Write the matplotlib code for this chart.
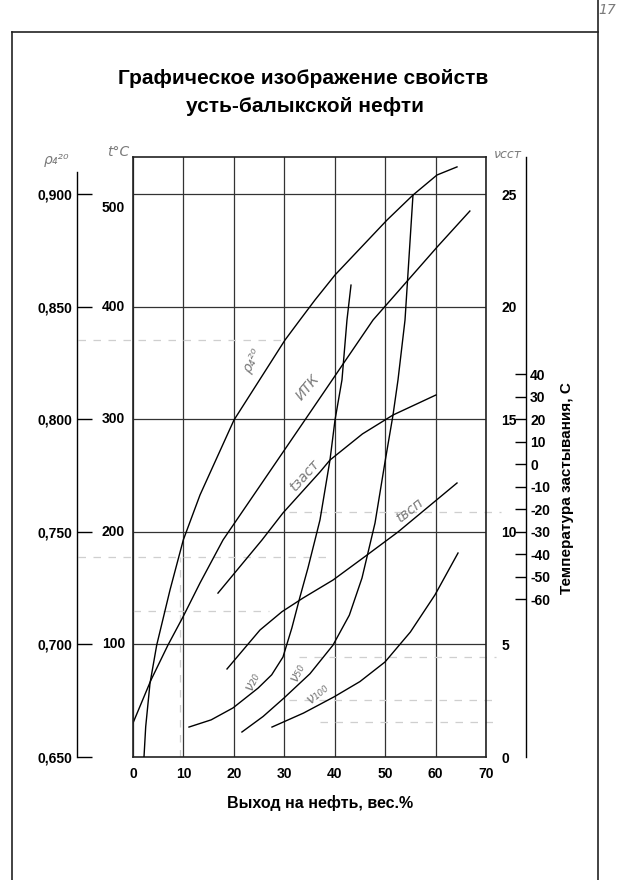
import matplotlib.pyplot as plt
from matplotlib.lines import Line2D

plt.rcParams['font.family'] = ['Liberation Sans', 'DejaVu Sans']
plt.rcParams['axes.unicode_minus'] = False

# оси
x_ticks = [0, 10, 20, 30, 40, 50, 60, 70]
t_ticks = [100, 200, 300, 400, 500]
rho_ticks = [0.650, 0.700, 0.750, 0.800, 0.850, 0.900]
visc_ticks = [0, 5, 10, 15, 20, 25]
pour_ticks = [40, 30, 20, 10, 0, -10, -20, -30, -40, -50, -60]

# плотность rho_4^20
rho_x = [2.18, 2.52, 3.37, 4.70, 7.34, 9.97, 13.29, 20.03, 30.14, 33.1, 36.09,
         40.06, 50.37, 55.52, 60.28, 64.25]
rho = [0.650, 0.6635, 0.6827, 0.6997, 0.7242, 0.7464, 0.7664, 0.7997, 0.8352,
       0.8441, 0.853, 0.8641, 0.8885, 0.8996, 0.9085, 0.9121]

# ИТК, °C
itk_x = [0.0, 3.57, 6.94, 9.91, 13.29, 17.85, 34.1, 47.6, 60.3, 66.8]
itk_t = [30.2, 68.4, 99.5, 124.4, 154.6, 192.8, 299.4, 388.2, 453.0, 485.0]

# температура вспышки, °C
flash_x = [18.64, 25.18, 29.55, 33.71, 39.66, 46.4, 52.55, 64.25]
flash_t = [78.2, 112.8, 129.1, 141.2, 157.2, 179.4, 199.9, 243.4]

# температура застывания, °C (правая шкала)
pour_x = [16.85, 25.58, 29.74, 37.08, 39.06, 45.5, 51.56, 60.08]
pour_t = [-57.2, -33.6, -21.6, -3.4, 1.9, 13.5, 21.9, 30.8]

# вязкость, сСт
v20_x = [11.1, 15.5, 19.83, 24.8, 27.5, 29.74, 31.5, 33.11, 34.7, 36.09, 37.08,
         39.06, 40.06, 41.44, 42.43, 43.23]
v20 = [1.33, 1.65, 2.18, 3.06, 3.65, 4.44, 5.73, 7.11, 8.4, 9.64, 10.53,
       13.19, 14.97, 16.75, 19.41, 20.96]
v50_x = [21.6, 25.8, 29.94, 35.1, 39.66, 42.9, 45.41, 47.99, 49.97, 51.56, 52.55,
         53.94, 55.52]
v50 = [1.11, 1.8, 2.62, 3.7, 4.97, 6.3, 7.95, 10.39, 13.1, 15.19, 16.75,
       19.41, 24.96]
v100_x = [27.56, 33.8, 39.86, 45.0, 49.97, 55.0, 59.88, 64.45]
v100 = [1.33, 1.95, 2.67, 3.35, 4.22, 5.55, 7.2, 9.06]

# подписи кривых (x, t, поворот)
curve_labels = [('ρ₄²⁰', 23.8, 352, 62), ('ИТК', 34.7, 328, 50),
                ('tзаст', 34.1, 250, 48), ('tвсп', 54.9, 219, 38),
                ('ν₂₀', 23.6, 68, 65), ('ν₅₀', 32.5, 76, 65), ('ν₁₀₀', 36.7, 57, 40)]

# бледные пунктирные построения со скана (x0, x1, t)
guides_h = [(-11, 30, 370), (31, 73, 218), (-11, 39, 178), (0, 27, 130),
            (33, 72, 89), (31, 72, 51), (37, 72, 31)]
guides_v = [(9.3, 0, 178)]

T_MAX = 533
W, H = 624, 880

fig = plt.figure(figsize=(W / 100, H / 100), dpi=100)
ax = fig.add_axes([133 / W, 1 - 757 / H, 353 / W, 600 / H])
ax.set_xlim(0, 70)
ax.set_ylim(0, T_MAX)

for x0, x1, t in guides_h:
    ax.plot([x0, x1], [t, t], color='#cfcfcf', lw=0.9, dashes=(6, 6), clip_on=False)
for x, t0, t1 in guides_v:
    ax.plot([x, x], [t0, t1], color='#cfcfcf', lw=0.9, dashes=(6, 6))

ax.set_xticks(x_ticks)
ax.set_xticklabels([str(v) for v in x_ticks], fontsize=10, fontweight='bold')
ax.set_yticks(t_ticks)
ax.set_yticklabels([])
ax.tick_params(axis='x', length=0, pad=7)
ax.tick_params(axis='y', length=0)
ax.grid(True, color='#333333', lw=0.9)
for s in ax.spines.values():
    s.set_linewidth(1.2)
    s.set_color('#222222')

for v in t_ticks:
    ax.annotate(str(v), xy=(0, v), xycoords=('axes fraction', 'data'),
                xytext=(-8, -14 if v == 500 else 0), textcoords='offset pixels',
                ha='right', va='center', fontsize=10, fontweight='bold')

ax.plot(itk_x, itk_t, color='black', lw=1.0)
ax.plot(flash_x, flash_t, color='black', lw=1.0)

# плотность
ax_d = ax.twinx()
ax_d.set_ylim(0.65, 0.65 + T_MAX * 0.0005)
for k in ('top', 'bottom', 'right'):
    ax_d.spines[k].set_visible(False)
ax_d.spines['left'].set_visible(True)
ax_d.spines['left'].set_position(('axes', -56 / 353))
ax_d.spines['left'].set_bounds(0.65, 0.910)
ax_d.spines['left'].set_linewidth(1.0)
ax_d.yaxis.set_ticks_position('left')
ax_d.set_yticks(rho_ticks)
ax_d.set_yticklabels([f'{v:.3f}'.replace('.', ',') for v in rho_ticks],
                     fontsize=10, fontweight='bold')
ax_d.tick_params(axis='y', direction='in', length=11, width=1.0, pad=3)
ax_d.plot(rho_x, rho, color='black', lw=1.0)

# вязкость
ax_v = ax.twinx()
ax_v.set_ylim(0, T_MAX * 0.05)
for s in ax_v.spines.values():
    s.set_visible(False)
ax_v.set_yticks(visc_ticks)
ax_v.set_yticklabels([str(v) for v in visc_ticks], fontsize=10, fontweight='bold')
ax_v.tick_params(axis='y', length=0, pad=11)
ax_v.plot(v20_x, v20, color='black', lw=1.0)
ax_v.plot(v50_x, v50, color='black', lw=1.0)
ax_v.plot(v100_x, v100, color='black', lw=1.0)

# температура застывания
ax_p = ax.twinx()
ax_p.set_ylim(-130, (T_MAX - 260) / 2)
for k in ('top', 'bottom', 'left'):
    ax_p.spines[k].set_visible(False)
ax_p.spines['right'].set_position(('axes', 393 / 353))
ax_p.spines['right'].set_linewidth(1.0)
ax_p.set_yticks(pour_ticks)
ax_p.set_yticklabels([str(v) for v in pour_ticks], fontsize=10, fontweight='bold')
ax_p.tick_params(axis='y', direction='in', length=8, width=1.0, pad=3)
ax_p.plot(pour_x, pour_t, color='black', lw=1.0)

hand = dict(color='#7a7a7a', fontstyle='italic', family=['DejaVu Sans'])
for txt, x, t, rot in curve_labels:
    ax.text(x, t, txt, rotation=rot, ha='center', va='center', fontsize=10, **hand)

fig.text(57 / W, 1 - 160 / H, 'ρ₄²⁰', ha='center', va='center', fontsize=10, **hand)
fig.text(118 / W, 1 - 152 / H, 't°C', ha='center', va='center', fontsize=10, **hand)
fig.text(508 / W, 1 - 155 / H, 'νсст', ha='center', va='center', fontsize=9, **hand)
fig.text(607 / W, 1 - 10 / H, '17', ha='center', va='center', fontsize=10, **hand)

fig.text(303 / W, 1 - 78 / H, 'Графическое изображение свойств',
         ha='center', va='center', fontsize=15, fontweight='bold')
fig.text(305 / W, 1 - 106 / H, 'усть-балыкской нефти',
         ha='center', va='center', fontsize=15, fontweight='bold')
fig.text(320 / W, 1 - 803 / H, 'Выход на нефть, вес.%',
         ha='center', va='center', fontsize=11.5, fontweight='bold')
fig.text(567 / W, 1 - 488 / H, 'Температура застывания, С', rotation=90,
         ha='center', va='center', fontsize=11, fontweight='bold')

# рамка листа
for xs, ys in [([12 / W, 12 / W], [1 - 32 / H, 0]),
               ([598 / W, 598 / W], [1, 0]),
               ([12 / W, 598 / W], [1 - 32 / H, 1 - 32 / H])]:
    fig.add_artist(Line2D(xs, ys, color='#222222', lw=1.2))

fig.savefig('out.png', dpi=100)
